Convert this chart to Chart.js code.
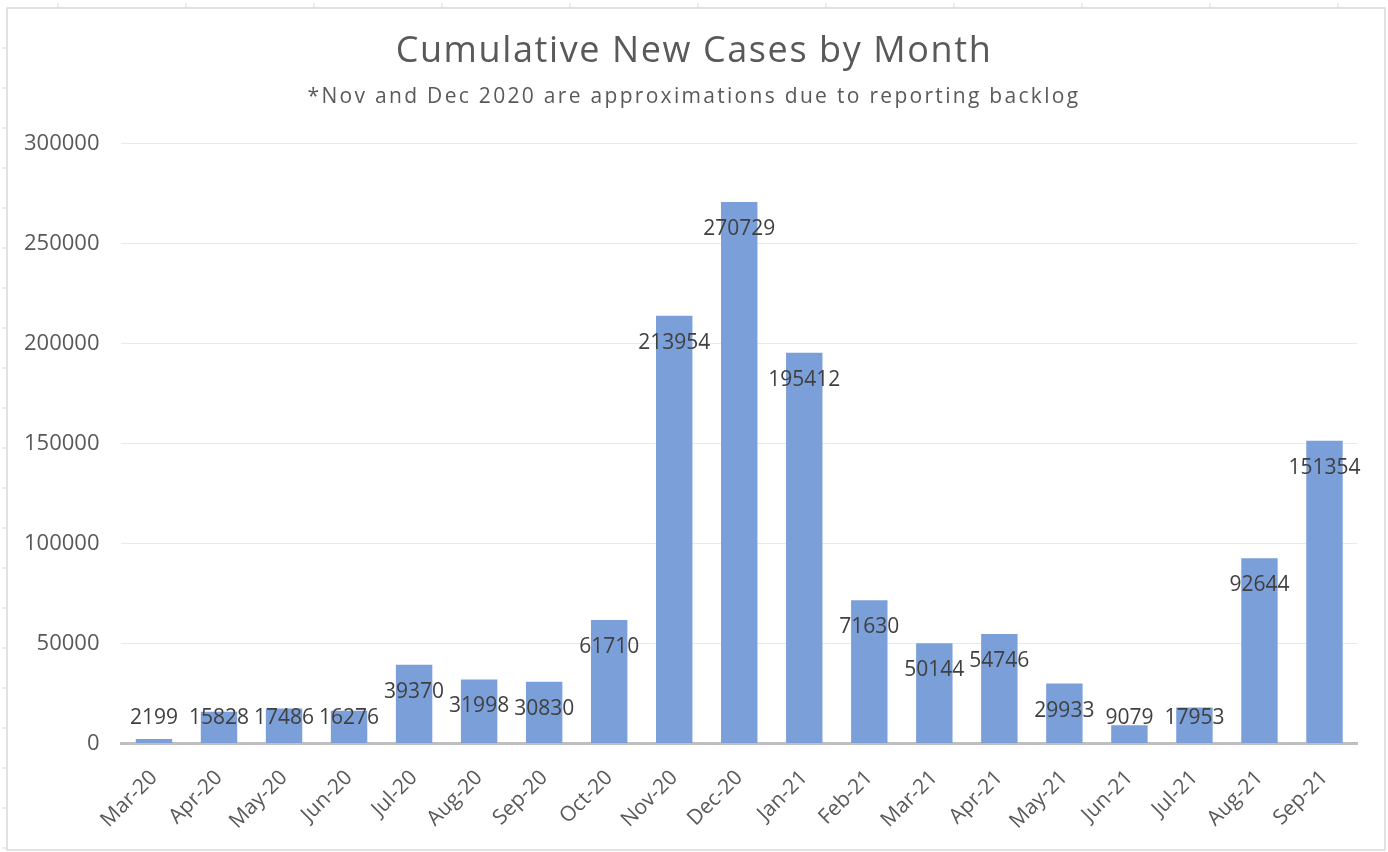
<!DOCTYPE html>
<html>
<head>
<meta charset="utf-8">
<script src="https://cdn.jsdelivr.net/npm/chart.js@4"></script>
<style>
  html, body { margin: 0; padding: 0; background: #fff; }
  #wrap { width: 1388px; height: 852px; position: relative; }
</style>
</head>
<body>
<div id="wrap"><canvas id="casesChart" width="1388" height="852"></canvas></div>
<script>
// --- data ---
const months = ['Mar-20','Apr-20','May-20','Jun-20','Jul-20','Aug-20','Sep-20','Oct-20','Nov-20','Dec-20',
                'Jan-21','Feb-21','Mar-21','Apr-21','May-21','Jun-21','Jul-21','Aug-21','Sep-21'];
const newCases = [2199, 15828, 17486, 16276, 39370, 31998, 30830, 61710, 213954, 270729,
                  195412, 71630, 50144, 54746, 29933, 9079, 17953, 92644, 151354];
const yMax = 300000;
const yStep = 50000;

const chartTitle = 'Cumulative New Cases by Month';
const chartSubtitle = '*Nov and Dec 2020 are approximations due to reporting backlog';

const FONT = "'Open Sans', 'Noto Sans', sans-serif";
const GREY = '#595959';

// frame + ruler marks around the sheet (decoration only)
const framePlugin = {
    id: 'frame',
    beforeDraw(chart) {
        const ctx = chart.ctx;
        ctx.save();
        ctx.strokeStyle = '#d9d9d9';
        ctx.lineWidth = 1.5;
        ctx.strokeRect(7, 8, 1378, 842);
        ctx.lineWidth = 1;
        ctx.beginPath();
        for (let x = 58; x < 1388; x += 128) { ctx.moveTo(x, 3); ctx.lineTo(x, 8); }
        for (let y = 48; y < 852; y += 40) { ctx.moveTo(2, y); ctx.lineTo(7, y); }
        ctx.stroke();
        ctx.restore();
    }
};

// title + subtitle are letter-spaced in the original, chart.js can't do that -> draw them here,
// the built-in (transparent) title/subtitle only keep the room for them
const spacedTitles = {
    id: 'spacedTitles',
    afterDraw(chart) {
        const ctx = chart.ctx;
        const tb = chart.titleBlock;
        const cx = chart.width / 2;
        ctx.save();
        ctx.fillStyle = GREY;
        ctx.textAlign = 'center';
        ctx.textBaseline = 'middle';
        ctx.font = "36px " + FONT;
        ctx.letterSpacing = '1.6px';
        ctx.fillText(chartTitle, cx, tb.top + 22 + 22);
        ctx.font = "21px " + FONT;
        ctx.letterSpacing = '2.3px';
        ctx.fillText(chartSubtitle, cx, tb.bottom + 12.6);
        ctx.restore();
    }
};

// value labels: just under the bar top, but never lower than a fixed gap above the base
const valueLabels = {
    id: 'valueLabels',
    afterDatasetsDraw(chart) {
        const ctx = chart.ctx;
        const meta = chart.getDatasetMeta(0);
        ctx.save();
        ctx.font = "21px " + FONT;
        ctx.fillStyle = '#404040';
        ctx.textAlign = 'center';
        ctx.textBaseline = 'middle';
        meta.data.forEach((bar, i) => {
            const y = Math.min(bar.y + 27, bar.base - 25);
            ctx.fillText(String(newCases[i]), bar.x, y);
        });
        ctx.restore();
    }
};

new Chart(document.getElementById('casesChart'), {
    type: 'bar',
    data: {
        labels: months,
        datasets: [{
            data: newCases,
            backgroundColor: '#7b9fd9',
            borderWidth: 0,
            barPercentage: 0.56,
            categoryPercentage: 1
        }]
    },
    options: {
        responsive: false,
        animation: false,
        layout: { padding: { top: 8, left: 2, right: 31, bottom: 4 } },
        plugins: {
            legend: { display: false },
            tooltip: { enabled: false },
            title: {
                display: true,
                text: chartTitle,
                color: 'rgba(0,0,0,0)',
                font: { family: FONT, size: 37, weight: 'normal' },
                padding: { top: 22, bottom: 10 }
            },
            subtitle: {
                display: true,
                text: chartSubtitle,
                color: 'rgba(0,0,0,0)',
                font: { family: FONT, size: 21, weight: 'normal' },
                padding: { top: 0, bottom: 34 }
            }
        },
        scales: {
            x: {
                grid: { display: false },
                border: { color: '#bfbfbf', width: 3 },
                ticks: {
                    color: GREY,
                    font: { family: FONT, size: 21 },
                    minRotation: 45,
                    maxRotation: 45,
                    padding: 14
                }
            },
            y: {
                min: 0,
                max: yMax,
                grid: { color: '#e9e9e9', lineWidth: 1, drawTicks: false },
                border: { display: false },
                ticks: {
                    stepSize: yStep,
                    color: GREY,
                    font: { family: FONT, size: 22 },
                    padding: 22,
                    callback: v => String(v)
                }
            }
        }
    },
    plugins: [framePlugin, spacedTitles, valueLabels]
});
</script>
</body>
</html>
